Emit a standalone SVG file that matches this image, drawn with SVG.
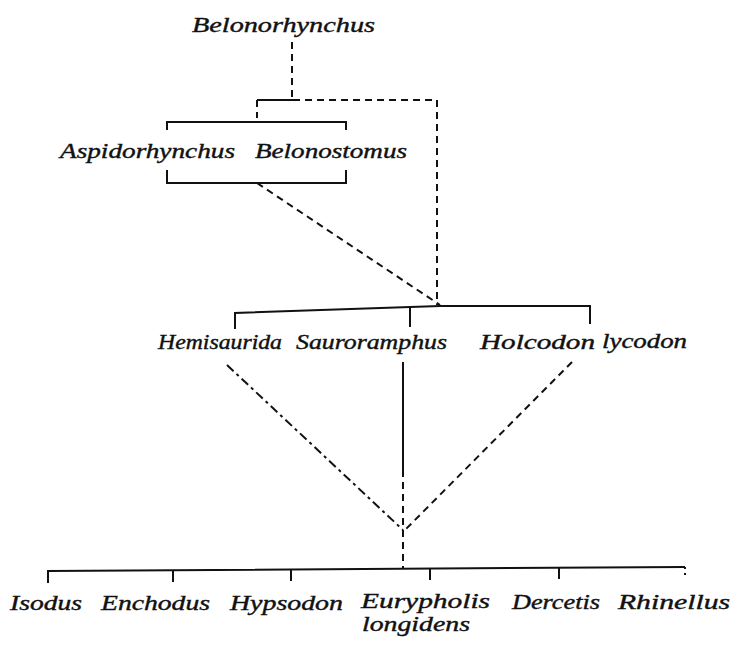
<svg xmlns="http://www.w3.org/2000/svg" width="733" height="645" viewBox="0 0 733 645">
<style>
.t{font-family:'Liberation Serif','Times New Roman',Times,serif;font-style:italic;font-size:21px;fill:#111;stroke:#111;stroke-width:0.4}
.s{stroke:#111;stroke-width:2;fill:none}
.d{stroke:#111;stroke-width:2;fill:none;stroke-dasharray:7 5}
.dd{stroke:#111;stroke-width:2;fill:none;stroke-dasharray:9 4 3 4}
</style>
<rect width="733" height="645" fill="#fff"/>
<g id="connectors">
<path class="d" d="M292 42V98"/>
<path class="s" d="M257 100H293"/>
<path class="d" d="M293 100H437V305"/>
<path class="d" d="M257 100V118"/>
<path class="s" d="M167 130V122H346V130"/>
<path class="s" d="M167 170V183H346V170"/>
<path class="d" d="M257 183L440 305"/>
<path class="s" d="M235 329V313L440 306H590V324"/>
<path class="s" d="M410 308V327"/>
<path class="s" d="M403 362V470" stroke-width="3"/>
<path class="d" d="M403 470V568"/>
<path class="dd" d="M227 365L403 530"/>
<path class="d" d="M572 362L406 529"/>
<path class="s" d="M48 583V571L685 567"/>
<path class="s" d="M173 570V582M291 569V581M430 568V580M559 567V579"/>
<path class="s" d="M685 567V578" stroke-dasharray="2 4"/>
</g>
<g id="n-belonorhynchus"><text class="t" x="192" y="32" textLength="183" lengthAdjust="spacingAndGlyphs">Belonorhynchus</text></g>
<g id="n-aspidorhynchus"><text class="t" x="60" y="158" textLength="175" lengthAdjust="spacingAndGlyphs">Aspidorhynchus</text></g>
<g id="n-belonostomus"><text class="t" x="255" y="158" textLength="152" lengthAdjust="spacingAndGlyphs">Belonostomus</text></g>
<g id="n-hemisaurida"><text class="t" x="158" y="349" textLength="124" lengthAdjust="spacingAndGlyphs">Hemisaurida</text></g>
<g id="n-sauroramphus"><text class="t" x="296" y="349" textLength="151" lengthAdjust="spacingAndGlyphs">Sauroramphus</text></g>
<g id="n-holcodon"><text class="t" x="480" y="349" textLength="115" lengthAdjust="spacingAndGlyphs">Holcodon</text></g>
<g id="n-lycodon"><text class="t" x="602" y="348" textLength="85" lengthAdjust="spacingAndGlyphs">lycodon</text></g>
<g id="n-isodus"><text class="t" x="10" y="610" textLength="72" lengthAdjust="spacingAndGlyphs">Isodus</text></g>
<g id="n-enchodus"><text class="t" x="101" y="610" textLength="109" lengthAdjust="spacingAndGlyphs">Enchodus</text></g>
<g id="n-hypsodon"><text class="t" x="230" y="610" textLength="113" lengthAdjust="spacingAndGlyphs">Hypsodon</text></g>
<g id="n-eurypholis"><text class="t" x="361" y="608" textLength="129" lengthAdjust="spacingAndGlyphs">Eurypholis</text><text class="t" x="362" y="631" textLength="108" lengthAdjust="spacingAndGlyphs">longidens</text></g>
<g id="n-dercetis"><text class="t" x="512" y="609" textLength="88" lengthAdjust="spacingAndGlyphs">Dercetis</text></g>
<g id="n-rhinellus"><text class="t" x="618" y="609" textLength="112" lengthAdjust="spacingAndGlyphs">Rhinellus</text></g>
</svg>
